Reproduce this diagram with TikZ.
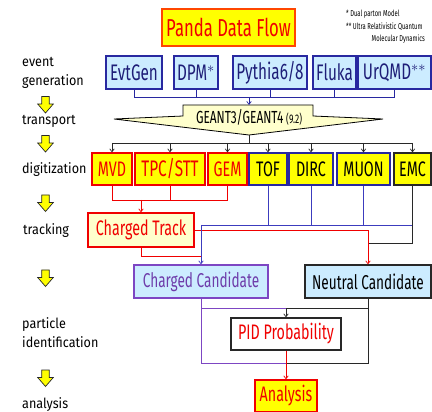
\documentclass[tikz,border=0pt]{standalone}
\usepackage{fontspec}
\newfontfamily\boxfont[FakeStretch=0.68]{Fira Sans}
\newfontfamily\labfont[FakeStretch=0.9]{Fira Sans}
\usetikzlibrary{arrows.meta}
\definecolor{lblue}{RGB}{204,236,255}
\definecolor{lyellow}{RGB}{255,255,204}
\definecolor{yel}{RGB}{255,255,0}
\definecolor{rd}{RGB}{240,0,0}
\definecolor{titleborder}{RGB}{255,70,0}
\definecolor{dblue}{RGB}{40,40,160}
\definecolor{dtext}{RGB}{30,30,120}
\definecolor{purp}{RGB}{125,70,195}
\definecolor{purptext}{RGB}{110,60,170}
\definecolor{bline}{RGB}{60,60,190}
\definecolor{dk}{RGB}{40,40,40}
\begin{document}
\begin{tikzpicture}[x=1pt,y=-1pt,
  box/.style={draw, line width=1.3pt, inner sep=0pt, minimum height=33pt,
    font=\boxfont\fontsize{21}{21}\selectfont},
  evtbox/.style={box, fill=lblue, draw=dblue, text=dtext},
  redbox/.style={box, fill=yel, draw=rd, text=rd},
  bluebox/.style={box, fill=yel, draw=dblue, text=black},
  lab/.style={anchor=base west, inner sep=0pt, font=\labfont\fontsize{14}{14}\selectfont},
  fn/.style={inner sep=0pt, font=\boxfont\fontsize{8.6}{8.6}\selectfont},
  arr/.style={-{Straight Barb[length=3pt,width=4.5pt]}, line width=0.7pt},
  ln/.style={line width=0.7pt},
  yarrow/.pic={\draw[fill=yel, draw=dk, line width=0.7pt, line join=miter]
     (-3.8,0) -- (3.8,0) -- (3.8,7.5) -- (7.8,7.5) -- (0,16.5) -- (-7.8,7.5) -- (-3.8,7.5) -- cycle;}
]
\useasboundingbox (0,0) rectangle (432,412);

% title
\node[box, fill=yel, draw=titleborder, text=rd, minimum width=133pt, minimum height=37pt,
  font=\boxfont\fontsize{24.5}{24.5}\selectfont] (title) at (228.5,27.5) {Panda Data Flow};
\node[fn, anchor=base west] (fn1) at (346,17) {* Dual parton Model};
\node[fn, anchor=base west] (fn2) at (346,30) {** Ultra Relativistic Quantum};
\node[fn, anchor=base east] (fn3) at (425,42) {Molecular Dynamics};

% left labels
\node[lab] (l1) at (22,67) {event};
\node[lab] (l2) at (22,86) {generation};
\node[lab] (l3) at (22,125) {transport};
\node[lab] (l4) at (22,174) {digitization};
\node[lab] (l5) at (23,235) {tracking};
\node[lab] (l6) at (22,328) {particle};
\node[lab] (l7) at (22,347) {identification};
\node[lab] (l8) at (22,408) {analysis};
\pic at (45.5,96.5) {yarrow};
\pic at (45.5,135.5) {yarrow};
\pic at (45.5,195) {yarrow};
\pic at (45.5,270) {yarrow};
\pic at (45.5,370) {yarrow};

% event generators
\node[evtbox, minimum width=56pt, font=\boxfont\fontsize{22.5}{22.5}\selectfont] (evtgen) at (134,72.5) {EvtGen};
\node[evtbox, minimum width=44pt, font=\boxfont\fontsize{22.5}{22.5}\selectfont] (dpm) at (196,72.5) {DPM$^{*}$};
\node[evtbox, minimum width=74pt, font=\boxfont\fontsize{22.5}{22.5}\selectfont] (pythia) at (270,72.5) {Pythia6/8};
\node[evtbox, minimum width=43pt, font=\boxfont\fontsize{22.5}{22.5}\selectfont] (fluka) at (334.5,72.5) {Fluka};
\node[evtbox, minimum width=73pt, font=\boxfont\fontsize{22.5}{22.5}\selectfont] (urqmd) at (394.5,72.5) {UrQMD$^{**}$};

\coordinate (e1) at (134,97);
\coordinate (e5) at (394.5,97);
\coordinate (em) at (249,97);
\draw[ln, dblue] (evtgen.south) -- (e1) -- (e5) -- (urqmd.south);
\foreach \n in {dpm,pythia,fluka} \draw[ln, dblue] (\n.south) -- (\n.south |- e1);

% GEANT shape
\coordinate (g1) at (183,105);
\coordinate (g2) at (313,105);
\coordinate (g3) at (313,116);
\coordinate (g4) at (383,119);
\coordinate (gtip) at (249,135);
\coordinate (g6) at (114,119);
\coordinate (g7) at (183,116);
\draw[fill=lyellow, draw=black, line width=0.8pt] (g1) -- (g2) -- (g3) -- (g4) -- (gtip) -- (g6) -- (g7) -- cycle;
\node[inner sep=0pt, font=\boxfont\fontsize{17.5}{17.5}\selectfont] (geant) at (249,117.5) {GEANT3/GEANT4\,{\fontsize{12.5}{12.5}\selectfont(9.2)}};
\draw[arr, dblue] (em) -- (em |- g1);

% detectors
\node[redbox, minimum width=40pt, minimum height=32pt] (mvd) at (112,169) {MVD};
\node[redbox, minimum width=70pt, minimum height=32pt, font=\boxfont\fontsize{22.5}{22.5}\selectfont] (tpc) at (170,169) {TPC/STT};
\node[redbox, minimum width=39pt, minimum height=32pt] (gem) at (227.5,169) {GEM};
\node[bluebox, minimum width=38pt, minimum height=32pt] (tof) at (268,169) {TOF};
\node[bluebox, minimum width=44pt, minimum height=32pt] (dirc) at (311,169) {DIRC};
\node[bluebox, minimum width=53pt, minimum height=32pt] (muon) at (363.5,169) {MUON};
\node[box, fill=yel, draw=dk, text=black, minimum width=37pt, minimum height=32pt] (emc) at (412.5,169) {EMC};

\coordinate (d0) at (249,143);
\draw[ln, dk] (gtip) -- (d0);
\draw[ln, dk] (mvd.north |- d0) -- (emc.north |- d0);
\foreach \n in {mvd,tpc,gem,tof,dirc,muon,emc} \draw[arr, dk] (\n.north |- d0) -- (\n.north);

% tracking
\node[box, fill=lyellow, draw=rd, text=rd, minimum width=106pt, minimum height=34pt] (ct) at (141,230) {Charged Track};
\coordinate (r1) at (112,200);
\coordinate (r3) at (227.5,200);
\coordinate (rm) at (141,200);
\draw[ln, rd] (mvd.south) -- (r1) -- (r3) -- (gem.south);
\draw[ln, rd] (tpc.south) -- (tpc.south |- r1);
\draw[arr, rd] (rm) -- (ct.north);

% candidates
\node[box, fill=lblue, draw=purp, text=purptext, minimum width=134pt, minimum height=33pt,
  font=\boxfont\fontsize{20}{20}\selectfont] (cc) at (201,281.5) {Charged Candidate};
\node[box, fill=lblue, draw=dk, text=black, minimum width=126pt, minimum height=33pt,
  font=\boxfont\fontsize{20}{20}\selectfont] (nc) at (368,281.5) {Neutral Candidate};

\coordinate (b0) at (201,225);
\coordinate (b4) at (412.5,225);
\draw[ln, bline] (b0) -- (b4);
\foreach \n in {tof,dirc,muon} \draw[ln, bline] (\n.south) -- (\n.south |- b0);
\coordinate (k1) at (412.5,243);
\coordinate (k2) at (368,243);
\draw[ln, dk] (emc.south) -- (k1) -- (k2);
\coordinate (ctr) at (194,230);
\coordinate (cr1) at (368,230);
\draw[arr, rd] (ct.east |- ctr) -- (cr1) -- (nc.north);
\coordinate (ctb) at (141,256);
\coordinate (ctb2) at (201,256);
\draw[ln, rd] (ct.south) -- (ctb) -- (ctb2);
\draw[arr, bline] (b0) -- (cc.north);

% PID
\node[box, fill=white, draw=dk, text=rd, minimum width=110pt, minimum height=32pt] (pid) at (286,334) {PID Probability};
\node[box, fill=yel, draw=rd, text=rd, minimum width=62pt, minimum height=32pt] (ana) at (286,396) {Analysis};

\coordinate (p1) at (201,308);
\coordinate (pm) at (286,308);
\coordinate (p2) at (368,308);
\coordinate (q1) at (201,363);
\coordinate (qm) at (286,363);
\coordinate (q2) at (368,363);
\draw[ln, purp] (cc.south) -- (q1) -- (qm);
\draw[ln, purp] (p1) -- (pm);
\draw[ln, dk] (nc.south) -- (q2) -- (qm);
\draw[ln, dk] (p2) -- (pm);
\draw[arr, dk] (pm) -- (pid.north);
\draw[arr, rd] (pid.south) -- (ana.north);
\end{tikzpicture}
\end{document}
